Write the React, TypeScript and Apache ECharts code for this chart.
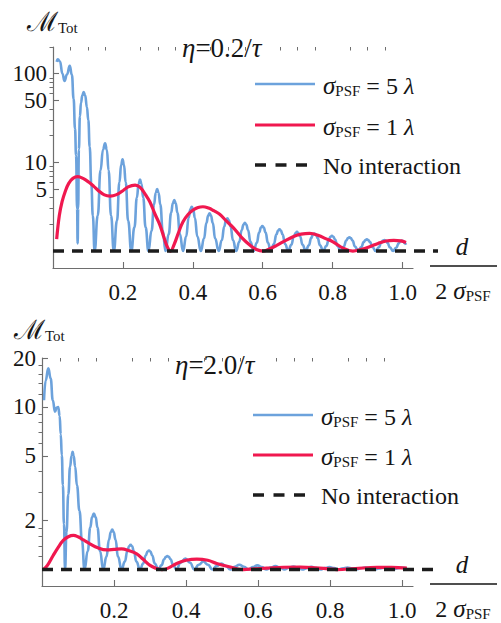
import { useEffect, useRef } from "react";
import * as echarts from "echarts";

const xLabels = [0.2, 0.4, 0.6, 0.8, 1.0];
const xMinor = [0.05, 0.1, 0.15, 0.25, 0.3, 0.35, 0.45, 0.5, 0.55, 0.65, 0.7, 0.75, 0.85, 0.9, 0.95];
const topYLabels = [5, 10, 50, 100];
const topYMinor = [2, 3, 4, 6, 7, 8, 9, 20, 30, 40, 60, 70, 80, 90, 200];
const botYLabels = [2, 5, 10, 20];
const botYMinor = [1.2, 1.4, 1.6, 1.8, 3, 4, 6, 7, 8, 9, 12, 14, 16, 18];
const noInteraction = [[0, 1], [1.1, 1]];

const topBlue = [
  [0.0105, 136], [0.014, 145], [0.02, 137], [0.027, 100], [0.033, 83], [0.04, 98], [0.048, 123], [0.054, 97], [0.059, 52], [0.063, 24], [0.066, 12], [0.069, 3], [0.0705, 1.22], [0.072, 3], [0.074, 14], [0.077, 33], [0.08, 47], [0.084, 57], [0.0877, 62], [0.092, 57], [0.097, 42], [0.101, 30], [0.105, 15], [0.1095, 5.8], [0.114, 2.5], [0.119, 1],
  [0.128, 2.52], [0.136, 8.15], [0.143, 13.9], [0.149, 16.4], [0.154, 13.9], [0.159, 8.15], [0.166, 2.52], [0.174, 1],
  [0.183, 2.19], [0.19, 5.96], [0.195, 9.36], [0.199, 10.8], [0.203, 9.36], [0.208, 5.96], [0.215, 2.19], [0.224, 1],
  [0.233, 1.85], [0.24, 4.02], [0.245, 5.73], [0.249, 6.4], [0.253, 5.73], [0.258, 4.02], [0.265, 1.85], [0.273, 1],
  [0.282, 1.7], [0.289, 3.34], [0.294, 4.54], [0.298, 5.0], [0.302, 4.54], [0.307, 3.34], [0.314, 1.7], [0.322, 1],
  [0.331, 1.55], [0.338, 2.7], [0.343, 3.47], [0.347, 3.76], [0.351, 3.47], [0.356, 2.7], [0.363, 1.55], [0.372, 1],
  [0.381, 1.46], [0.388, 2.37], [0.393, 2.95], [0.397, 3.16], [0.401, 2.95], [0.406, 2.37], [0.413, 1.46], [0.423, 1],
  [0.432, 1.38], [0.439, 2.08], [0.444, 2.51], [0.448, 2.66], [0.452, 2.51], [0.457, 2.08], [0.464, 1.38], [0.474, 1],
  [0.483, 1.32], [0.49, 1.89], [0.495, 2.22], [0.499, 2.34], [0.503, 2.22], [0.508, 1.89], [0.515, 1.32], [0.524, 1],
  [0.533, 1.27], [0.54, 1.73], [0.545, 1.99], [0.549, 2.08], [0.553, 1.99], [0.558, 1.73], [0.565, 1.27], [0.574, 1],
  [0.583, 1.24], [0.59, 1.63], [0.595, 1.84], [0.599, 1.91], [0.603, 1.84], [0.608, 1.63], [0.615, 1.24], [0.623, 1],
  [0.632, 1.2], [0.639, 1.53], [0.644, 1.7], [0.648, 1.76], [0.652, 1.7], [0.657, 1.53], [0.664, 1.2], [0.673, 1],
  [0.682, 1.18], [0.689, 1.46], [0.694, 1.6], [0.698, 1.65], [0.702, 1.6], [0.707, 1.46], [0.714, 1.18], [0.723, 1],
  [0.732, 1.16], [0.739, 1.41], [0.744, 1.54], [0.748, 1.58], [0.752, 1.54], [0.757, 1.41], [0.764, 1.16], [0.773, 1],
  [0.782, 1.14], [0.789, 1.35], [0.794, 1.45], [0.798, 1.49], [0.802, 1.45], [0.807, 1.35], [0.814, 1.14], [0.823, 1],
  [0.832, 1.125], [0.839, 1.31], [0.844, 1.4], [0.848, 1.43], [0.852, 1.4], [0.857, 1.31], [0.864, 1.125], [0.873, 1],
  [0.882, 1.11], [0.889, 1.26], [0.894, 1.33], [0.898, 1.36], [0.902, 1.33], [0.907, 1.26], [0.914, 1.11], [0.923, 1],
  [0.932, 1.1], [0.939, 1.24], [0.944, 1.31], [0.948, 1.33], [0.952, 1.31], [0.957, 1.24], [0.964, 1.1], [0.973, 1],
  [0.982, 1.09], [0.989, 1.22], [0.994, 1.29], [0.998, 1.31], [1.002, 1.29], [1.006, 1.23], [1.01, 1.18],
];

const topRed = [
  [0.0105, 1.36], [0.018, 2.5], [0.026, 3.6], [0.035, 4.7], [0.045, 5.8], [0.057, 6.6], [0.071, 6.9], [0.086, 6.6], [0.102, 6.0], [0.116, 5.4], [0.13, 4.8], [0.147, 4.3], [0.164, 4.17], [0.18, 4.3], [0.197, 4.7], [0.215, 5.3], [0.235, 5.55], [0.25, 5.2], [0.265, 4.3], [0.277, 3.6], [0.292, 2.6], [0.306, 1.96], [0.318, 1.4], [0.327, 1.12], [0.336, 1.0], [0.347, 1.2], [0.36, 1.65], [0.372, 2.14], [0.387, 2.6], [0.401, 2.9], [0.415, 3.1], [0.429, 3.16], [0.445, 3.05], [0.46, 2.85], [0.477, 2.6], [0.495, 2.2], [0.515, 1.85], [0.54, 1.42], [0.563, 1.17], [0.582, 1.04], [0.601, 1.0], [0.62, 1.06], [0.64, 1.16], [0.658, 1.27], [0.69, 1.47], [0.71, 1.55], [0.734, 1.58], [0.76, 1.5], [0.78, 1.38], [0.801, 1.27], [0.83, 1.08], [0.858, 1.0], [0.88, 1.04], [0.906, 1.12], [0.93, 1.22], [0.953, 1.3], [0.975, 1.32], [0.995, 1.3], [1.01, 1.25],
];

const bottomBlue = [
  [0.0056, 11], [0.01, 14.5], [0.0176, 17.3], [0.024, 15], [0.03, 11], [0.036, 9.35], [0.041, 9.9], [0.045, 10], [0.049, 8.8], [0.052, 6.8], [0.055, 5.05], [0.058, 3.3], [0.061, 1.9], [0.064, 1],
  [0.068, 1.7], [0.073, 2.9], [0.078, 4.3], [0.082, 5.0], [0.085, 5.3], [0.088, 5.0], [0.092, 4.3], [0.097, 3.3], [0.104, 2.3], [0.111, 1.5], [0.118, 1],
  [0.127, 1.3], [0.134, 1.81], [0.139, 2.1], [0.144, 2.21], [0.149, 2.1], [0.154, 1.81], [0.161, 1.3], [0.17, 1],
  [0.179, 1.2], [0.186, 1.53], [0.191, 1.7], [0.195, 1.76], [0.199, 1.7], [0.204, 1.53], [0.211, 1.2], [0.221, 1],
  [0.23, 1.12], [0.237, 1.3], [0.242, 1.39], [0.246, 1.42], [0.25, 1.39], [0.255, 1.3], [0.262, 1.12], [0.272, 1],
  [0.281, 1.09], [0.288, 1.22], [0.293, 1.29], [0.297, 1.31], [0.301, 1.29], [0.306, 1.22], [0.313, 1.09], [0.323, 1],
  [0.332, 1.065], [0.339, 1.155], [0.344, 1.196], [0.348, 1.21], [0.352, 1.196], [0.357, 1.155], [0.364, 1.065], [0.373, 1],
  [0.385, 1.1], [0.398, 1.17], [0.411, 1.1], [0.423, 1],
  [0.435, 1.07], [0.448, 1.12], [0.461, 1.07], [0.473, 1],
  [0.485, 1.05], [0.498, 1.09], [0.511, 1.05], [0.523, 1],
  [0.535, 1.04], [0.548, 1.07], [0.561, 1.04], [0.573, 1],
  [0.585, 1.035], [0.598, 1.06], [0.611, 1.035], [0.623, 1],
  [0.635, 1.03], [0.648, 1.05], [0.661, 1.03], [0.673, 1],
  [0.685, 1.025], [0.698, 1.045], [0.711, 1.025], [0.723, 1],
  [0.735, 1.02], [0.748, 1.04], [0.761, 1.02], [0.773, 1],
  [0.785, 1.02], [0.798, 1.035], [0.811, 1.02], [0.823, 1],
  [0.835, 1.018], [0.848, 1.03], [0.861, 1.018], [0.873, 1],
  [0.885, 1.018], [0.898, 1.03], [0.911, 1.018], [0.923, 1],
  [0.935, 1.015], [0.948, 1.025], [0.961, 1.015], [0.973, 1],
  [0.985, 1.015], [0.997, 1.025], [1.01, 1.02],
];

const bottomRed = [
  [0.004, 1.0], [0.015, 1.06], [0.031, 1.22], [0.045, 1.37], [0.059, 1.51], [0.073, 1.59], [0.087, 1.62], [0.1, 1.59], [0.115, 1.52], [0.133, 1.44], [0.155, 1.36], [0.18, 1.32], [0.2, 1.33], [0.221, 1.34], [0.24, 1.31], [0.263, 1.25], [0.28, 1.16], [0.3, 1.06], [0.315, 1.02], [0.333, 1.0], [0.35, 1.02], [0.374, 1.09], [0.4, 1.14], [0.43, 1.16], [0.46, 1.14], [0.485, 1.09], [0.52, 1.04], [0.559, 1.0], [0.59, 1.01], [0.624, 1.02], [0.67, 1.033], [0.717, 1.035], [0.76, 1.025], [0.795, 1.01], [0.819, 1.0], [0.87, 1.015], [0.93, 1.03], [0.97, 1.03], [1.013, 1.02],
];

const SERIF = "Liberation Serif";
const BLUE = "#6ca2dc";
const RED = "#f0184f";
const DASH = "#1c1c1c";
const AXIS = "#6e6e6e";
const TXT = "#151515";

const panels = [
  { left: 53, top: 47, width: 360, height: 221, xMax: 1.03, extW: 385, yMin: 0.644, yMax: 200, yLabels: topYLabels, yMinor: topYMinor, blue: topBlue, red: topRed, title: "0.2", titleX: 182, titleY: 48, legendY: [84, 125, 165], legendX: 255, nameY: 25, nameX: 27 },
  { left: 42, top: 358, width: 371, height: 228, xMax: 1.03, extW: 396, yMin: 0.792, yMax: 20, yLabels: botYLabels, yMinor: botYMinor, blue: bottomBlue, red: bottomRed, title: "2.0", titleX: 175, titleY: 365, legendY: [415, 455, 495], legendX: 253, nameY: 333, nameX: 14 },
];

export default function App() {
  const ref = useRef<HTMLDivElement>(null);
  useEffect(() => {
    if (!ref.current) return;
    const chart = echarts.init(ref.current, null, { renderer: "svg" });
    const grid: any[] = [];
    const xAxis: any[] = [];
    const yAxis: any[] = [];
    const series: any[] = [];
    const graphic: any[] = [];

    const subRich = {
      s: { fontFamily: SERIF, fontSize: 25, fontStyle: "italic", fill: TXT, lineHeight: 26, verticalAlign: "bottom" },
      p: { fontFamily: SERIF, fontSize: 15, fill: TXT, lineHeight: 8, verticalAlign: "bottom" },
      t: { fontFamily: SERIF, fontSize: 24, fill: TXT, lineHeight: 26, verticalAlign: "bottom" },
      i: { fontFamily: SERIF, fontSize: 24, fontStyle: "italic", fill: TXT, lineHeight: 26, verticalAlign: "bottom" },
    };

    panels.forEach((p, k) => {
      const g0 = k * 2;
      grid.push({ left: p.left, top: p.top, width: p.width, height: p.height, containLabel: false, outerBoundsMode: "none" });
      grid.push({ left: p.left, top: p.top, width: p.extW, height: p.height, containLabel: false, outerBoundsMode: "none" });
      const xi = xAxis.length;
      xAxis.push({
        type: "value", gridIndex: g0, min: 0, max: p.xMax,
        axisLine: { show: true, onZero: false, lineStyle: { color: AXIS, width: 1.2 } },
        axisTick: { show: true, inside: true, length: 6, customValues: xLabels, lineStyle: { color: AXIS, width: 1.1 } },
        axisLabel: { show: true, customValues: xLabels, formatter: (v: number) => v.toFixed(1), fontFamily: SERIF, fontSize: 23, color: TXT, margin: 13 },
        splitLine: { show: false },
      });
      xAxis.push({
        type: "value", gridIndex: g0, min: 0, max: p.xMax,
        axisLine: { show: false },
        axisTick: { show: true, inside: true, length: 3.5, customValues: xMinor, lineStyle: { color: AXIS, width: 1 } },
        axisLabel: { show: false },
        splitLine: { show: false },
      });
      xAxis.push({ type: "value", gridIndex: g0 + 1, min: 0, max: 1.1, show: false });
      const yi = yAxis.length;
      yAxis.push({
        type: "log", logBase: 10, gridIndex: g0, min: p.yMin, max: p.yMax,
        axisLine: { show: true, onZero: false, lineStyle: { color: AXIS, width: 1.2 } },
        axisTick: { show: true, inside: true, length: 6, customValues: p.yLabels, lineStyle: { color: AXIS, width: 1.1 } },
        axisLabel: { show: true, customValues: p.yLabels, formatter: (v: number) => String(Math.round(v)), fontFamily: SERIF, fontSize: 23, color: TXT, margin: 6 },
        splitLine: { show: false },
      });
      yAxis.push({
        type: "log", logBase: 10, gridIndex: g0, min: p.yMin, max: p.yMax,
        axisLine: { show: false },
        axisTick: { show: true, inside: true, length: 3.5, customValues: p.yMinor, lineStyle: { color: AXIS, width: 1 } },
        axisLabel: { show: false },
        splitLine: { show: false },
      });
      yAxis.push({ type: "log", logBase: 10, gridIndex: g0 + 1, min: p.yMin, max: p.yMax, show: false });

      series.push({
        name: "σPSF = 5 λ", type: "line", xAxisIndex: xi, yAxisIndex: yi, data: p.blue,
        symbol: "none", showSymbol: false, smooth: 0.5, smoothMonotone: "x",
        lineStyle: { color: BLUE, width: 2.6 }, itemStyle: { color: BLUE }, z: 2,
      });
      series.push({
        name: "σPSF = 1 λ", type: "line", xAxisIndex: xi, yAxisIndex: yi, data: p.red,
        symbol: "none", showSymbol: false, smooth: 0.4,
        lineStyle: { color: RED, width: 3.2 }, itemStyle: { color: RED }, z: 3,
      });
      series.push({
        name: "No interaction", type: "line", xAxisIndex: xi + 2, yAxisIndex: yi + 2, data: noInteraction,
        symbol: "none", showSymbol: false,
        lineStyle: { color: DASH, width: 3.5, type: [11, 8] }, itemStyle: { color: DASH }, z: 4,
      });

      // legend keys and texts
      const lx = p.legendX;
      const [y1, y2, y3] = p.legendY;
      graphic.push({ type: "line", shape: { x1: lx, y1: y1, x2: lx + 60, y2: y1 }, style: { stroke: BLUE, lineWidth: 2.6 } });
      graphic.push({ type: "line", shape: { x1: lx, y1: y2, x2: lx + 60, y2: y2 }, style: { stroke: RED, lineWidth: 3.2 } });
      graphic.push({ type: "line", shape: { x1: lx, y1: y3, x2: lx + 53, y2: y3 }, style: { stroke: DASH, lineWidth: 3.5, lineDash: [11, 9.5] } });
      graphic.push({ type: "text", x: lx + 68, y: y1 + 1, style: { text: "{s|σ}{p|PSF}{t| = 5 }{i|λ}", verticalAlign: "middle", rich: subRich } });
      graphic.push({ type: "text", x: lx + 68, y: y2 + 1, style: { text: "{s|σ}{p|PSF}{t| = 1 }{i|λ}", verticalAlign: "middle", rich: subRich } });
      graphic.push({ type: "text", x: lx + 68, y: y3 + 1, style: { text: "No interaction", fontFamily: SERIF, fontSize: 24, fill: TXT, verticalAlign: "middle" } });

      // panel title
      graphic.push({
        type: "text", x: p.titleX, y: p.titleY,
        style: {
          text: "{i|η}{r|=" + p.title + "/}{i|τ}", verticalAlign: "middle",
          rich: {
            i: { fontFamily: SERIF, fontSize: 27, fontStyle: "italic", fontWeight: "normal", fill: TXT, lineHeight: 30 },
            r: { fontFamily: SERIF, fontSize: 27, fontWeight: "normal", fill: TXT, lineHeight: 30 },
          },
        },
      });

      const axisY = p.top + p.height;
      // y-axis name
      graphic.push({
        type: "text", x: p.nameX, y: p.nameY,
        style: {
          text: "{m|ℳ}{t|Tot}", verticalAlign: "middle",
          rich: {
            m: { fontFamily: "DejaVu Serif", fontSize: 27, fill: TXT, lineHeight: 20, verticalAlign: "bottom" },
            t: { fontFamily: SERIF, fontSize: 15, fill: TXT, lineHeight: 12, verticalAlign: "bottom" },
          },
        },
      });
      // x-axis name as fraction
      graphic.push({
        type: "text", x: 462, y: axisY - 22,
        style: { text: "d", fontFamily: SERIF, fontSize: 25, fontStyle: "italic", fill: TXT, align: "center", verticalAlign: "middle" },
      });
      graphic.push({
        type: "line", shape: { x1: 430, y1: axisY - 2, x2: 497, y2: axisY - 2 },
        style: { stroke: TXT, lineWidth: 1.3 },
      });
      graphic.push({
        type: "text", x: 463, y: axisY + 22,
        style: {
          text: "{t|2 }{s|σ}{p|PSF}", align: "center", verticalAlign: "middle",
          rich: subRich,
        },
      });
    });

    chart.setOption({
      animation: false,
      backgroundColor: "#ffffff",
      textStyle: { fontFamily: SERIF },
      grid, xAxis, yAxis, series, graphic,
    });
    return () => chart.dispose();
  }, []);
  return <div ref={ref} style={{ position: "fixed", left: 0, top: 0, width: 501, height: 623 }} />;
}
